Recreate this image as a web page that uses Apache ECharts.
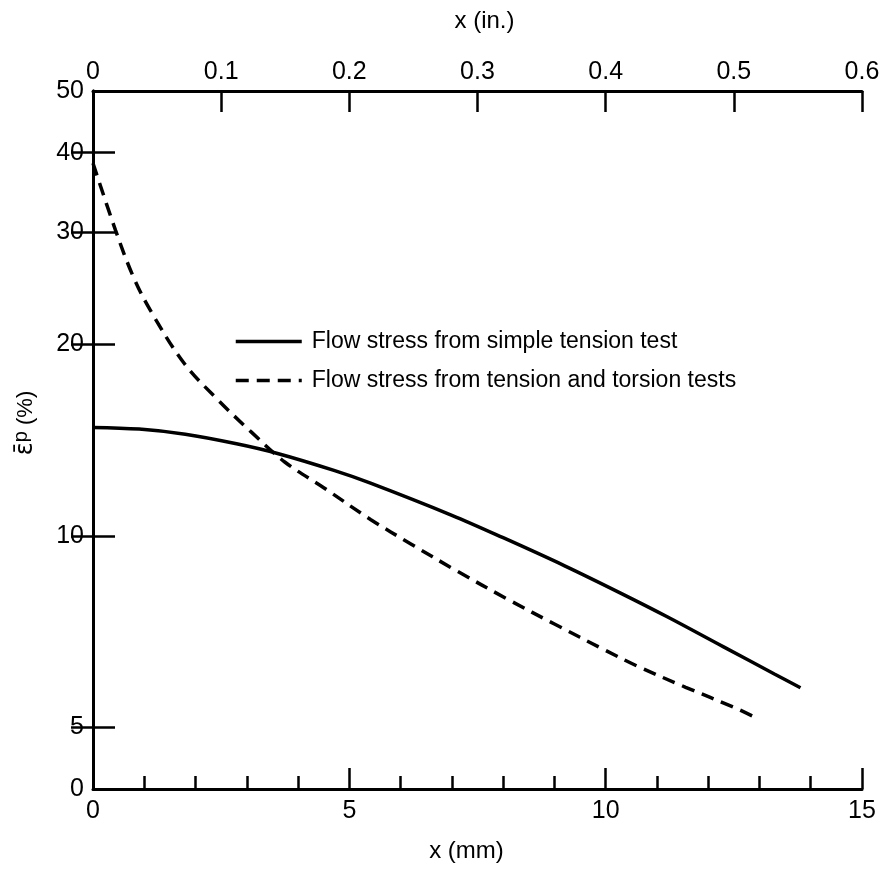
<!DOCTYPE html>
<html>
<head>
<meta charset="utf-8">
<script src="https://cdn.jsdelivr.net/npm/echarts@6/dist/echarts.min.js"></script>
<style>
html,body{margin:0;padding:0;background:#fff;}
#chart{width:886px;height:881px;}
</style>
</head>
<body>
<div id="chart"></div>
<script>
// ---- data ----
var solidName = 'Flow stress from simple tension test';
var dashedName = 'Flow stress from tension and torsion tests';
var solidX = [0, 0.9, 1.8, 2.8, 3.6, 4.7, 5.4, 7.0, 8.0, 9.2, 10.3, 11.2, 12.3, 13.3, 13.8];
var solidY = [14.8, 14.71, 14.44, 13.95, 13.47, 12.67, 12.11, 10.77, 9.93, 8.97, 8.12, 7.46, 6.69, 6.06, 5.77];
var dashedX = [0, 0.44, 0.78, 1.12, 1.77, 2.42, 3.09, 3.74, 4.5, 5.42, 6.2, 7.05, 8.11, 9.01, 9.99, 10.58, 11.56, 12.54, 12.88];
var dashedY = [38.5, 30.2, 25.6, 22.6, 18.7, 16.4, 14.55, 13.06, 11.9, 10.6, 9.71, 8.85, 7.93, 7.26, 6.61, 6.26, 5.78, 5.36, 5.2];
var yLabelValues = [4, 5, 10, 20, 30, 40, 50];
var yTickValues = [5, 10, 20, 30, 40];
var xMmTicks = [0, 5, 10, 15];
var xInTicks = [0, 0.1, 0.2, 0.3, 0.4, 0.5, 0.6];

function pairs(xs, ys){ return xs.map(function(x,i){ return [x, ys[i]]; }); }

var font = 'Liberation Sans, Arial, Helvetica, sans-serif';
var lblSize = 25;
var chart = echarts.init(document.getElementById('chart'), null, {renderer:'canvas'});
chart.setOption({
  backgroundColor: '#fff',
  animation: false,
  grid: {left: 93, right: 24, top: 91, bottom: 92, containLabel: false},
  legend: {
    left: 229, top: 325, orient: 'vertical',
    itemWidth: 66, itemHeight: 20, itemGap: 16,
    itemStyle: {color: 'rgba(0,0,0,0)', borderWidth: 0, opacity: 0},
    lineStyle: {width: 3.5, color: '#000'},
    textStyle: {fontFamily: font, fontSize: 23, color: '#000', padding: [0,0,0,5]},
    data: [solidName, dashedName]
  },
  xAxis: [{
    type: 'value', position: 'bottom', min: 0, max: 15, interval: 5,
    name: 'x (mm)', nameLocation: 'middle', nameGap: 50,
    nameTextStyle: {fontFamily: font, fontSize: 24, color: '#000', padding: [0, 22, 0, 0]},
    axisLine: {show: true, lineStyle: {color: '#000', width: 3}},
    axisTick: {show: true, inside: true, length: 21, lineStyle: {color: '#000', width: 2.5}},
    minorTick: {show: true, splitNumber: 5, length: 13, lineStyle: {color: '#000', width: 2.5}},
    axisLabel: {fontFamily: font, fontSize: lblSize, color: '#000', margin: 10,
      customValues: xMmTicks, formatter: function(v){ return String(Math.round(v)); }},
    splitLine: {show: false}
  }, {
    type: 'value', position: 'top', min: 0, max: 0.6, interval: 0.1,
    name: 'x (in.)', nameLocation: 'middle', nameGap: 58,
    nameTextStyle: {fontFamily: font, fontSize: 24, color: '#000', padding: [0, 0, 0, 14]},
    axisLine: {show: true, lineStyle: {color: '#000', width: 3}},
    axisTick: {show: true, inside: true, length: 21, lineStyle: {color: '#000', width: 2.5}},
    axisLabel: {fontFamily: font, fontSize: lblSize, color: '#000', margin: 6,
      customValues: xInTicks,
      formatter: function(v){ return v === 0 ? '0' : v.toFixed(1); }},
    splitLine: {show: false}
  }],
  yAxis: [{
    type: 'log', logBase: 10, min: 4, max: 50, position: 'left',
    name: '{e|ε̄}{p|p} (%)', nameLocation: 'middle', nameGap: 52,
    nameTextStyle: {fontFamily: font, fontSize: 22, color: '#000', padding: [0, 0, 0, 34],
      rich: {
        e: {fontFamily: 'DejaVu Sans, sans-serif', fontSize: 24, color: '#000'},
        p: {fontFamily: font, fontSize: 20, color: '#000', padding: [0, 0, 10, 0]}
      }},
    axisLine: {show: true, lineStyle: {color: '#000', width: 3}},
    axisTick: {show: true, inside: true, length: 22, customValues: yTickValues, lineStyle: {color: '#000', width: 2.5}},
    minorTick: {show: false},
    axisLabel: {fontFamily: font, fontSize: lblSize, color: '#000', margin: 9,
      customValues: yLabelValues,
      formatter: function(v){ var r = Math.round(v); return r === 4 ? '0' : String(r); }},
    splitLine: {show: false}
  }, {
    type: 'log', logBase: 10, min: 4, max: 50, position: 'right',
    axisLine: {show: true, lineStyle: {color: '#000', width: 3}},
    axisTick: {show: true, inside: true, length: 22, customValues: yTickValues, lineStyle: {color: '#000', width: 2.5}},
    minorTick: {show: false},
    axisLabel: {show: false},
    splitLine: {show: false}
  }],
  series: [{
    name: solidName, type: 'line', xAxisIndex: 0, yAxisIndex: 0,
    data: pairs(solidX, solidY), smooth: 0.35, symbol: 'none',
    lineStyle: {color: '#000', width: 3.5, type: 'solid'},
    itemStyle: {color: '#000'}
  }, {
    name: dashedName, type: 'line', xAxisIndex: 0, yAxisIndex: 0,
    data: pairs(dashedX, dashedY), smooth: 0.35, symbol: 'none',
    lineStyle: {color: '#000', width: 3.5, type: [13, 8]},
    itemStyle: {color: '#000'}
  }]
});
</script>
</body>
</html>
